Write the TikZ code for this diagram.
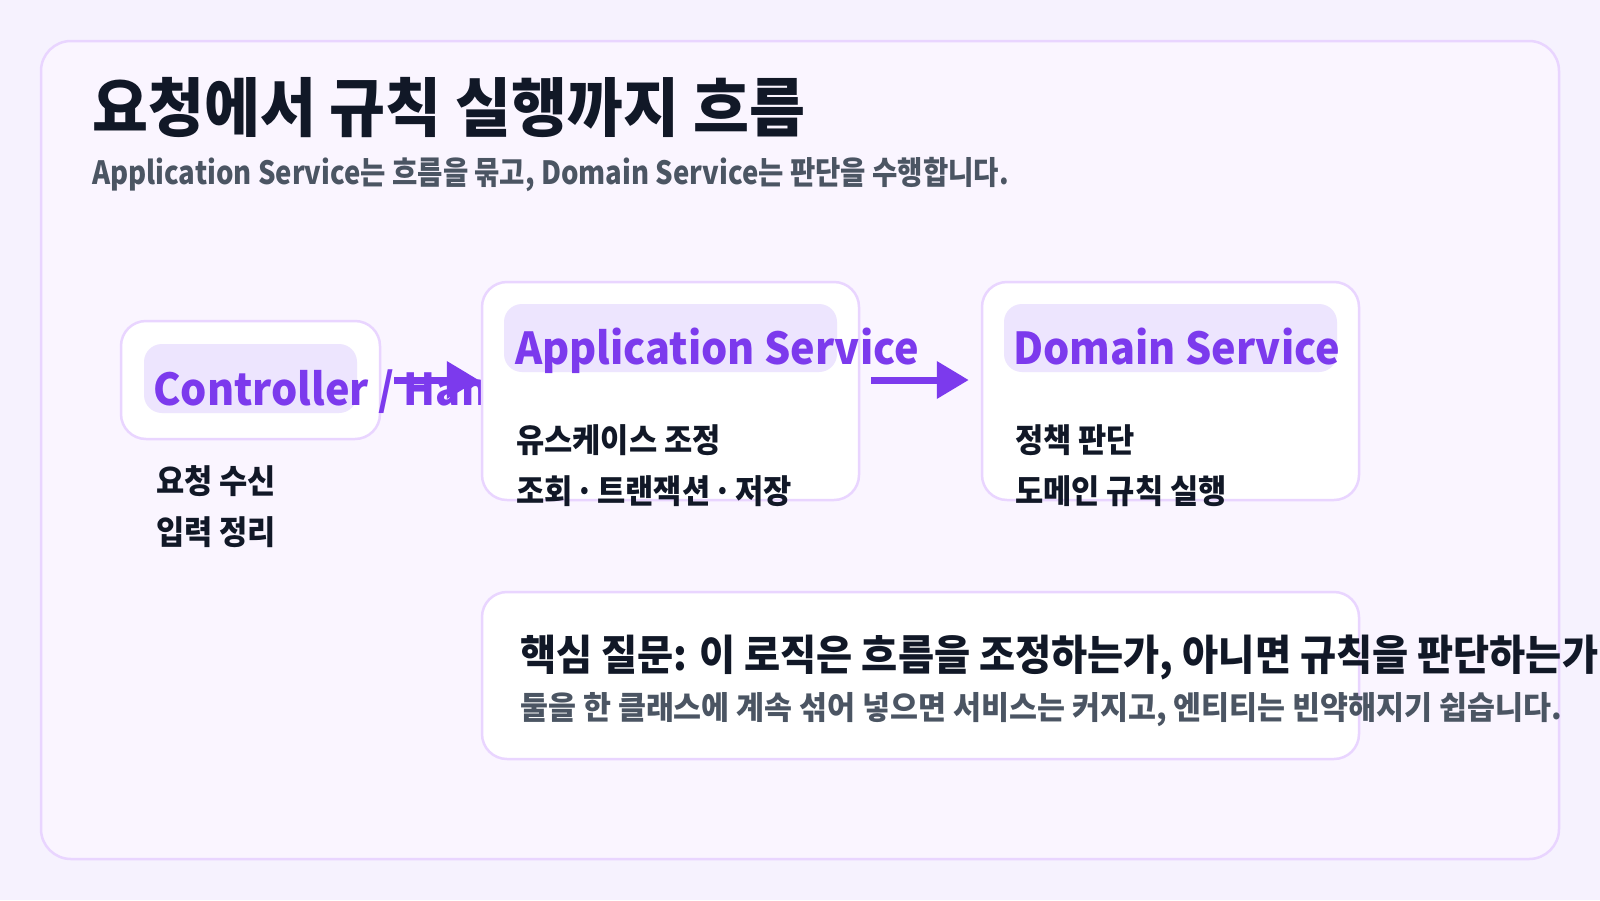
\documentclass[tikz,border=0pt]{standalone}
\usepackage{fontspec}
\usetikzlibrary{arrows.meta}
\setmainfont{Noto Sans CJK KR}
\newfontfamily\headfont[FakeStretch=0.95]{Noto Sans CJK KR}
\newfontfamily\subfont[FakeStretch=0.86]{Noto Sans CJK KR}
\newfontfamily\bodyfont[FakeStretch=0.93]{Noto Sans CJK KR}
\newfontfamily\askfont[FakeStretch=0.935]{Noto Sans CJK KR}
\newfontfamily\notefont[FakeStretch=0.95]{Noto Sans CJK KR}
\newfontfamily\tagfont[FakeStretch=0.94]{Noto Sans CJK KR}
\definecolor{pagebg}{HTML}{F6F2FE}
\definecolor{panelbg}{HTML}{FAF5FF}
\definecolor{frameline}{HTML}{E9D5FF}
\definecolor{pillbg}{HTML}{EDE5FE}
\definecolor{accent}{HTML}{7C3AED}
\definecolor{ink}{HTML}{111827}
\definecolor{muted}{HTML}{4B5563}

\begin{document}
\begin{tikzpicture}[x=1pt, y=-1pt,
    box/.style={draw=frameline, line width=2.5pt, fill=white, rounded corners=25pt, inner sep=0pt},
    pill/.style={fill=pillbg, rounded corners=18pt, inner sep=0pt},
    tag/.style={anchor=base west, inner sep=0pt, text=accent, font=\tagfont\bfseries\fontsize{44}{50}\selectfont},
    item/.style={anchor=base west, inner sep=0pt, text=ink, font=\bodyfont\bfseries\fontsize{33}{38}\selectfont},
    flow/.style={draw=accent, line width=7pt, -{Triangle[length=32pt, width=36pt]}}]

    % --- Page and panel ---
    \fill[pagebg] (0,0) rectangle (1600,900);
    \useasboundingbox (0,0) rectangle (1600,900);
    \node[draw=frameline, line width=2.5pt, fill=panelbg, rounded corners=30pt,
          minimum width=1518pt, minimum height=818pt] (panel) at (800,450) {};

    % Title and subtitle
    \node[anchor=base west, inner sep=0pt, text=ink, font=\headfont\bfseries\fontsize{64}{72}\selectfont]
        (title) at (92,131) {요청에서 규칙 실행까지 흐름};
    \node[anchor=base west, inner sep=0pt, text=muted, font=\subfont\bfseries\fontsize{32}{36}\selectfont]
        (subtitle) at (92,184) {Application Service는 흐름을 묶고, Domain Service는 판단을 수행합니다.};

    % --- Controller on the left ---
    \node[box, minimum width=259pt, minimum height=118pt] (ctrl) at (250.5,380) {};
    \node[pill, minimum width=213pt, minimum height=69pt] (ctrlpill) at (250.5,378.5) {};
    \node[tag] (ctrltag) at (153,405) {Controller / Han};
    \node[item] (ctrl1) at (156,493) {요청 수신};
    \node[item] (ctrl2) at (156,544) {입력 정리};

    % --- Application Service in the middle ---
    \node[box, minimum width=377pt, minimum height=218pt] (app) at (670.5,391) {};
    \node[pill, minimum width=333pt, minimum height=68pt] (apppill) at (670.5,338) {};
    \node[tag] (apptag) at (515,364) {Application Service};
    \node[item] (app1) at (516,452) {유스케이스 조정};
    \node[item] (app2) at (516,503) {조회\hspace{3pt}·\hspace{3pt}트랜잭션\hspace{3pt}·\hspace{3pt}저장};

    % --- Domain Service on the right ---
    \node[box, minimum width=377pt, minimum height=218pt] (dom) at (1170.5,391) {};
    \node[pill, minimum width=333pt, minimum height=68pt] (dompill) at (1170.5,338) {};
    \node[tag] (domtag) at (1013,364) {Domain Service};
    \node[item] (dom1) at (1015,452) {정책 판단};
    \node[item] (dom2) at (1015,503) {도메인 규칙 실행};

    % --- Key question below ---
    \node[box, minimum width=877pt, minimum height=167pt] (note) at (920.5,675.5) {};
    \node[anchor=base west, inner sep=0pt, text=ink, font=\askfont\bfseries\fontsize{42}{48}\selectfont]
        (notehead) at (520,670) {핵심 질문: 이 로직은 흐름을 조정하는가, 아니면 규칙을 판단하는가?};
    \node[anchor=base west, inner sep=0pt, text=muted, font=\notefont\bfseries\fontsize{32}{36}\selectfont]
        (notebody) at (520,719) {둘을 한 클래스에 계속 섞어 넣으면 서비스는 커지고, 엔티티는 빈약해지기 쉽습니다.};

    % --- Arrows between the stages ---
    \draw[flow, shorten <=13pt, shorten >=2pt] (ctrl.east) -- (ctrl.east -| app.west);
    \draw[flow, shorten <=11pt, shorten >=12pt] (app.east |- ctrl.east) -- (dom.west |- ctrl.east);
\end{tikzpicture}
\end{document}
